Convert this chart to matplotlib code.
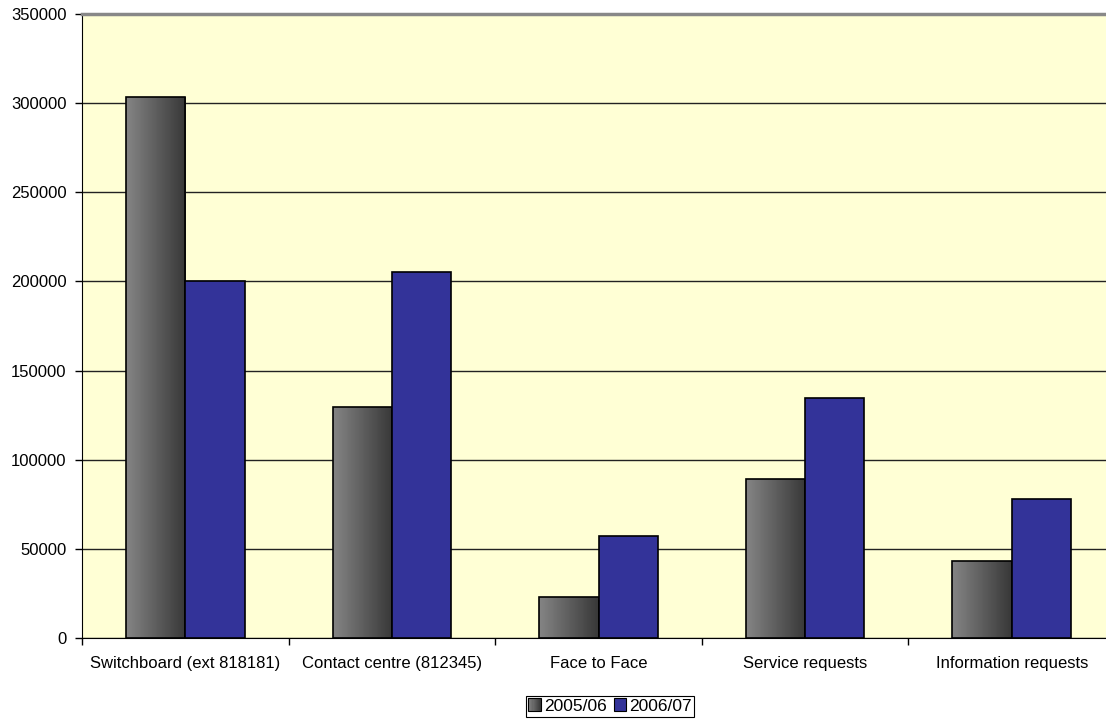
import matplotlib
matplotlib.use("Agg")
import matplotlib.pyplot as plt
import matplotlib.patches as patches
from matplotlib.legend_handler import HandlerBase
import numpy as np

plt.rcParams['font.family'] = ['Liberation Sans', 'DejaVu Sans']

categorias = ["Switchboard (ext 818181)", "Contact centre (812345)", "Face to Face",
              "Service requests", "Information requests"]
serie_0506 = [303300, 129500, 23000, 89000, 43200]
serie_0607 = [200100, 205300, 57400, 134600, 78000]
etiquetas = ["2005/06", "2006/07"]
yticks = [0, 50000, 100000, 150000, 200000, 250000, 300000, 350000]

AZUL = '#333399'
FONDO = '#FFFFD5'
ancho = 0.287

# degradado horizontal de los bares grises (claro a la izquierda, oscuro a la derecha)
degradado = np.linspace(0.52, 0.22, 64)[None, :]


class HandlerDegradado(HandlerBase):
    def create_artists(self, legend, orig, xd, yd, w, h, fontsize, trans):
        lado = h
        tiras = []
        n = 12
        for k in range(n):
            g = 0.52 - (0.52 - 0.22) * k / (n - 1)
            tiras.append(patches.Rectangle((xd + lado * k / n, yd), lado / n, lado,
                                           facecolor=(g, g, g), edgecolor='none',
                                           transform=trans))
        tiras.append(patches.Rectangle((xd, yd), lado, lado, facecolor='none',
                                       edgecolor='black', lw=0.8, transform=trans))
        return tiras


class HandlerCuadro(HandlerBase):
    def create_artists(self, legend, orig, xd, yd, w, h, fontsize, trans):
        return [patches.Rectangle((xd, yd), h, h, facecolor=orig.get_facecolor(),
                                  edgecolor='black', lw=0.8, transform=trans)]


fig = plt.figure(figsize=(11.06, 7.2), dpi=100)
ax = fig.add_axes([82 / 1106, 82 / 720, 1033 / 1106, 624 / 720])
ax.set_facecolor(FONDO)

x = np.arange(len(categorias))
barras_g = ax.bar(x - ancho / 2, serie_0506, ancho, facecolor='none',
                  edgecolor='black', linewidth=1.2, zorder=3)
barras_a = ax.bar(x + ancho / 2, serie_0607, ancho, color=AZUL,
                  edgecolor='black', linewidth=1.2, zorder=3)

for b in barras_g:
    x0, y0 = b.get_x(), b.get_y()
    im = ax.imshow(degradado, cmap='gray', vmin=0, vmax=1, aspect='auto',
                   extent=(x0, x0 + b.get_width(), y0, y0 + b.get_height()),
                   interpolation='bilinear', zorder=2.5)
    im.set_clip_path(b)

ax.set_xlim(-0.5, len(categorias) - 0.5)
ax.set_ylim(0, 350000)
ax.set_yticks(yticks)
ax.set_yticklabels([str(v) for v in yticks])
ax.yaxis.grid(True, color='#222222', linewidth=1.0, zorder=1)
ax.set_axisbelow(True)

ax.set_xticks(np.arange(len(categorias) + 1) - 0.5)
ax.set_xticklabels([])
ax.set_xticks(x, minor=True)
ax.set_xticklabels(categorias, minor=True)
ax.tick_params(axis='x', which='major', length=5, width=1, direction='out')
ax.tick_params(axis='x', which='minor', length=0, pad=13, labelsize=12)
ax.tick_params(axis='y', length=5, width=1, pad=6, labelsize=12)

ax.spines['top'].set_color('#888888')
ax.spines['top'].set_linewidth(2.5)
ax.spines['right'].set_visible(False)
ax.spines['left'].set_color('black')
ax.spines['bottom'].set_color('black')

proxy_g = patches.Patch(facecolor='#666666')
proxy_a = patches.Patch(facecolor=AZUL)
leg = fig.legend([proxy_g, proxy_a], etiquetas, loc='upper center',
                 bbox_to_anchor=(610 / 1106, 1 - 696 / 720), ncol=2,
                 fontsize=12.5, frameon=True, fancybox=False, framealpha=1,
                 edgecolor='black', handlelength=0.75, handleheight=0.75,
                 handletextpad=0.15, columnspacing=0.4, borderpad=0.15,
                 borderaxespad=0,
                 handler_map={proxy_g: HandlerDegradado(), proxy_a: HandlerCuadro()})
leg.get_frame().set_linewidth(0.8)

fig.savefig("out.png", dpi=100)
